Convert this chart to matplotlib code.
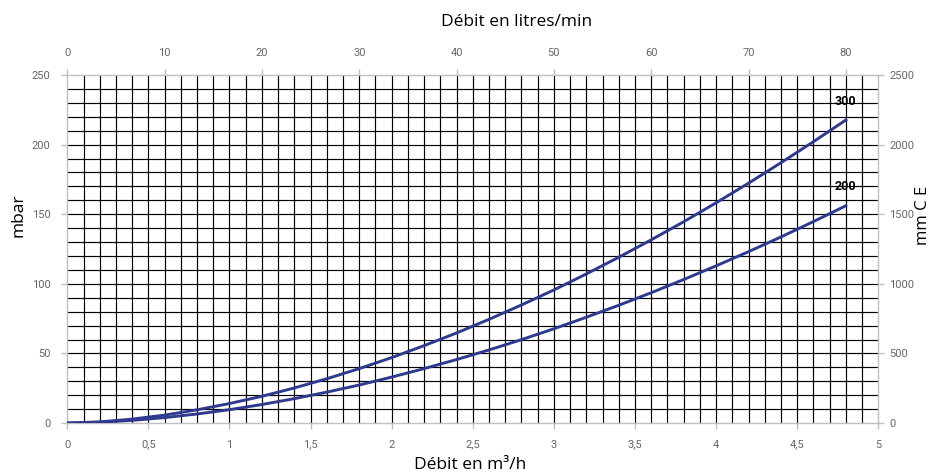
import numpy as np
import matplotlib
matplotlib.use("Agg")
import matplotlib.pyplot as plt
from matplotlib.ticker import FuncFormatter

# ----- DATA -----
debit_m3h = [0.0, 0.2, 0.4, 0.6, 0.8, 1.0, 1.2, 1.4, 1.6, 1.8, 2.0, 2.2, 2.4,
             2.6, 2.8, 3.0, 3.2, 3.4, 3.6, 3.8, 4.0, 4.2, 4.4, 4.6, 4.8]
perte_300 = [0.0, 0.8, 2.8, 5.7, 9.5, 14.0, 19.2, 25.2, 31.8, 39.1, 47.0, 55.6, 64.7,
             74.5, 84.8, 95.6, 107.1, 119.1, 131.6, 144.6, 158.2, 172.3, 187.0, 202.1, 217.7]
perte_200 = [0.0, 0.55, 1.9, 3.9, 6.5, 9.6, 13.3, 17.5, 22.2, 27.3, 33.0, 39.1, 45.6,
             52.5, 59.9, 67.7, 76.0, 84.6, 93.6, 103.1, 112.9, 123.1, 133.7, 144.7, 156.1]
series_labels = ["300", "200"]

x_ticks = [0, 0.5, 1, 1.5, 2, 2.5, 3, 3.5, 4, 4.5, 5]
top_ticks = [0, 10, 20, 30, 40, 50, 60, 70, 80]
left_ticks = [0, 50, 100, 150, 200, 250]
right_ticks = [0, 500, 1000, 1500, 2000, 2500]

# ----- STYLE -----
curve_color = "#2f3a8f"
axis_grey = "#bfbfbf"
tick_grey = "#666666"
tick_font = dict(family="Roboto", size=8, color=tick_grey)
label_font = dict(family="Open Sans", size=12.5, color="black")

fig = plt.figure(figsize=(9.32, 4.76), dpi=100)
ax = fig.add_axes([0.0722, 0.1113, 0.8702, 0.7311])
ax.set_xlim(0, 5)
ax.set_ylim(0, 250)

# grid: black lines every 0.1 m3/h and every 10 mbar
ax.vlines(np.arange(0.1, 4.95, 0.1), 0, 250, color="#000000", lw=0.85, zorder=1)
ax.hlines(np.arange(10, 245, 10), 0, 5, color="#000000", lw=0.85, zorder=1)

# curves
ax.plot(debit_m3h, perte_300, color=curve_color, lw=2.1, zorder=3)
ax.plot(debit_m3h, perte_200, color=curve_color, lw=2.1, zorder=3)
ax.text(debit_m3h[-1], perte_300[-1] + 13, series_labels[0], ha="center", va="center",
        family="Roboto", fontweight="bold", size=9, color="black", zorder=4)
ax.text(debit_m3h[-1], perte_200[-1] + 14, series_labels[1], ha="center", va="center",
        family="Roboto", fontweight="bold", size=9, color="black", zorder=4)

# bottom / left axis
for s in ax.spines.values():
    s.set_color(axis_grey)
    s.set_linewidth(1.0)
ax.set_xticks(x_ticks)
ax.xaxis.set_major_formatter(FuncFormatter(lambda v, p: f"{v:g}".replace(".", ",")))
ax.set_yticks(left_ticks)
ax.tick_params(axis="both", colors=axis_grey, length=4, width=1.0, pad=8)
for lab in ax.get_xticklabels() + ax.get_yticklabels():
    lab.set(**tick_font)

# right axis: mm C E
axr = ax.twinx()
axr.set_ylim(0, 2500)
axr.set_yticks(right_ticks)
axr.tick_params(axis="y", colors=axis_grey, length=4, width=1.0, pad=4)
for lab in axr.get_yticklabels():
    lab.set(**tick_font)
for s in axr.spines.values():
    s.set_visible(False)

# top axis: litres/min
axt = ax.twiny()
axt.set_xlim(0, 5 * 1000 / 60)
axt.set_xticks(top_ticks)
axt.tick_params(axis="x", colors=axis_grey, length=4, width=1.0, pad=8)
for lab in axt.get_xticklabels():
    lab.set(**tick_font)
for s in axt.spines.values():
    s.set_visible(False)

# axis titles placed in figure pixels
W, H = 932, 476
fig.text(517 / W, 1 - 22 / H, "Débit en litres/min", ha="center", va="center", **label_font)
fig.text(470 / W, 1 - 465 / H, "Débit en m³/h", ha="center", va="center", **label_font)
fig.text(18 / W, 1 - 215 / H, "mbar", ha="center", va="center", rotation=90, **label_font)
fig.text(923 / W, 1 - 215 / H, "mm C E", ha="center", va="center", rotation=90,
         family="Open Sans", size=12, color="black")

plt.savefig("out.png", dpi=100)
plt.close()
